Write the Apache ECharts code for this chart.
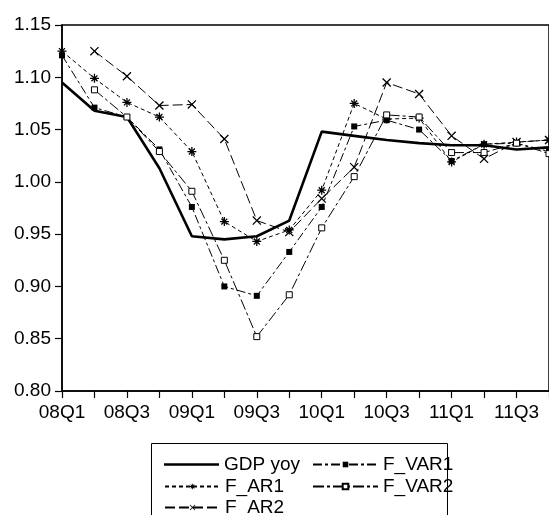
<!DOCTYPE html>
<html>
<head>
<meta charset="UTF-8">
<title>GDP yoy forecasts</title>
<script src="https://cdn.jsdelivr.net/npm/echarts@6/dist/echarts.min.js"></script>
<style>
  html, body { margin: 0; padding: 0; background: #fff; overflow: hidden; }
</style>
</head>
<body>
<div id="main" style="width: 552px; height: 515px;"></div>
<script>
// quarters 08Q1 .. 11Q4
var quarters = ['08Q1','08Q2','08Q3','08Q4','09Q1','09Q2','09Q3','09Q4',
                '10Q1','10Q2','10Q3','10Q4','11Q1','11Q2','11Q3','11Q4'];
var gdpYoy = [1.095, 1.068, 1.062, 1.013, 0.948, 0.945, 0.948, 0.963,
              1.048, 1.044, 1.040, 1.037, 1.035, 1.035, 1.031, 1.033];
var fVar1  = [1.121, 1.071, 1.062, 1.031, 0.976, 0.900, 0.891, 0.933,
              0.976, 1.053, 1.059, 1.050, 1.020, 1.036, 1.037, 1.029];
var fAr1   = [1.125, 1.099, 1.076, 1.062, 1.029, 0.962, 0.943, 0.954,
              0.992, 1.075, 1.060, 1.061, 1.019, 1.036, 1.038, 1.040];
var fVar2  = [null, 1.088, 1.062, 1.029, 0.991, 0.925, 0.852, 0.892,
              0.956, 1.005, 1.064, 1.062, 1.028, 1.028, 1.037, 1.027];
var fAr2   = [null, 1.125, 1.101, 1.073, 1.074, 1.041, 0.963, 0.952,
              0.984, 1.014, 1.095, 1.084, 1.044, 1.022, 1.038, 1.040];

// marker shapes
var starPath = 'path://M-0.7,-5L0.7,-5L0.7,5L-0.7,5Z M-5,-0.7L5,-0.7L5,0.7L-5,0.7Z ' +
               'M-3.8,-2.8L-2.8,-3.8L3.8,2.8L2.8,3.8Z M2.8,-3.8L3.8,-2.8L-2.8,3.8L-3.8,2.8Z';
var crossPath = 'path://M-4,-3.2L-3.2,-4L4,3.2L3.2,4Z M3.2,-4L4,-3.2L-3.2,4L-4,3.2Z';

var myChart = echarts.init(document.getElementById('main'));
var font = '"Liberation Sans", Arial, sans-serif';

// one legend per entry so each sits in its own cell of the box
function legendItem(item, left, top, w) {
    return {
        orient: 'vertical', left: left, top: top,
        itemWidth: w, itemHeight: 7, itemGap: 0,
        textStyle: { color: '#000', fontSize: 19, fontFamily: font, lineHeight: 19 },
        data: [item]
    };
}

myChart.setOption({
    animation: false,
    grid: {
        left: 62, top: 25, width: 487, height: 366,
        show: true, borderColor: '#000', borderWidth: 1.5, backgroundColor: 'transparent'
    },
    xAxis: {
        type: 'category',
        data: quarters,
        boundaryGap: false,
        axisLine: { lineStyle: { color: '#000', width: 1.5 } },
        axisTick: { interval: 0, length: 7, lineStyle: { color: '#000', width: 1.2 } },
        axisLabel: { interval: 1, margin: 12, color: '#000', fontSize: 19, fontFamily: font },
        splitLine: { show: false }
    },
    yAxis: {
        type: 'value',
        min: 0.8, max: 1.15, interval: 0.05,
        axisLine: { show: true, lineStyle: { color: '#000', width: 1.5 } },
        axisTick: { show: true, length: 7, lineStyle: { color: '#000', width: 1.2 } },
        axisLabel: {
            margin: 11, color: '#000', fontSize: 19, fontFamily: font,
            formatter: function (v) { return v.toFixed(2); }
        },
        splitLine: { show: false }
    },
    graphic: [{
        type: 'rect',
        shape: { x: 151.5, y: 443.5, width: 296, height: 90 },
        style: { fill: '#fff', stroke: '#000', lineWidth: 1 },
        z: -1
    }],
    legend: [
        legendItem({ name: 'GDP yoy', icon: 'path://M0,0L55,0L55,2.6L0,2.6Z' }, 159, 450, 55),
        legendItem('F_AR1', 159, 472, 55),
        legendItem('F_AR2', 159, 493, 55),
        legendItem('F_VAR1', 307, 450, 65),
        legendItem('F_VAR2', 307, 472, 65)
    ],
    series: [{
        name: 'GDP yoy', type: 'line', data: gdpYoy,
        symbol: 'none',
        itemStyle: { color: '#000' },
        lineStyle: { color: '#000', width: 2.6 },
        z: 3
    }, {
        name: 'F_AR1', type: 'line', data: fAr1,
        symbol: starPath, symbolSize: 9,
        itemStyle: { color: '#000' },
        lineStyle: { color: '#000', width: 1, type: [4, 3] }
    }, {
        name: 'F_AR2', type: 'line', data: fAr2,
        symbol: crossPath, symbolSize: 9,
        itemStyle: { color: '#000' },
        lineStyle: { color: '#000', width: 1, type: [10, 4] }
    }, {
        name: 'F_VAR1', type: 'line', data: fVar1,
        symbol: 'rect', symbolSize: 6,
        itemStyle: { color: '#000' },
        lineStyle: { color: '#000', width: 1, type: [9, 3, 3, 3] }
    }, {
        name: 'F_VAR2', type: 'line', data: fVar2,
        symbol: 'rect', symbolSize: 6,
        itemStyle: { color: '#fff', borderColor: '#000', borderWidth: 1 },
        lineStyle: { color: '#000', width: 1, type: [11, 3, 3, 3] }
    }]
});
</script>
</body>
</html>
